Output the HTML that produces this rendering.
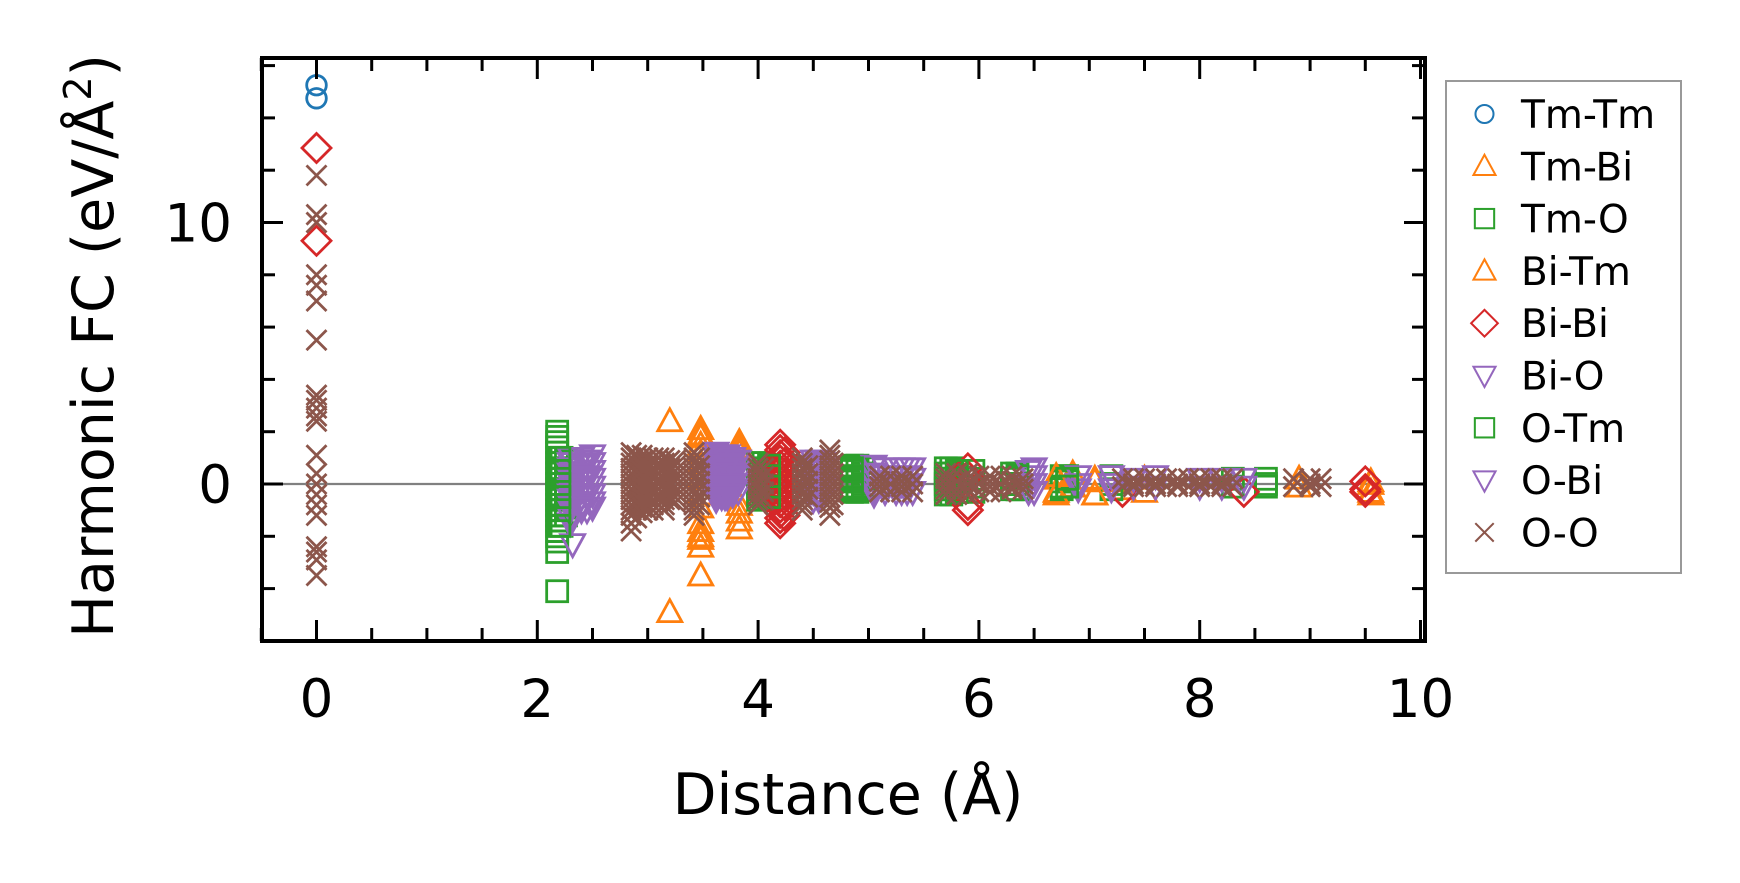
<!DOCTYPE html>
<html><head><meta charset="utf-8"><style>
html,body{margin:0;padding:0;background:#fff;}
svg{display:block;font-family:"DejaVu Sans","Liberation Sans",sans-serif;}
</style></head><body>
<svg id="chart" width="1740" height="883" viewBox="0 0 1740 883" xmlns="http://www.w3.org/2000/svg">
<rect x="0" y="0" width="1740" height="883" fill="#fff"/>
<g id="marks"></g>
<g id="axes"></g>
<text x="848" y="814" font-size="57" text-anchor="middle">Distance (Å)</text>
<text transform="translate(113,346) rotate(-90)" font-size="57" text-anchor="middle">Harmonic FC (eV/Å<tspan dy="-22" font-size="38">2</tspan><tspan dy="22">)</tspan></text>
<g id="legend"></g>
</svg>
<script>
const xTicks = [0,2,4,6,8,10];
const yTicks = [0,10];
const seriesNames = ["Tm-Tm","Tm-Bi","Tm-O","Bi-Tm","Bi-Bi","Bi-O","O-Tm","O-Bi","O-O"];
// cluster data: distance per cluster, and FC values per cluster
const tmtmX = [0];
const tmtmY = [[15.25,14.75]];
const tmbiX = [3.2,3.15,3.48,3.83,4.25,6.7,6.85,7.05,7.3,7.5,8.9,9.55];
const tmbiY = [[2.4,-4.9],[0.0],[2.1,1.8,1.5,1.2,0.8,0.3,-0.4,-0.9,-1.5,-1.8,-2.1,-2.4,-3.5],[1.6,1.2,-0.8,-1.1,-1.7],[0.1],[0.2,-0.3],[0.4,-0.1],[-0.4,0.1],[0.1,-0.2],[-0.3,0.2],[-0.1,0.2],[-0.3,0.1]];
const tmoX = [2.18,2.22,2.26,4.0,4.05,4.1,4.85,4.9,4.95,5.7,5.75,5.8,5.95,6.3,6.35,6.75,6.8,7.2,8.3,8.6];
const tmoY = [[2.0,1.8,1.6,1.4,1.2,1.0,0.8,0.6,0.4,0.2,0.0,-0.2,-0.4,-0.6,-0.8,-1.0,-1.2,-1.4,-1.6,-1.8,-2.0,-2.2,-2.6,-4.1],[1.0,0.8,0.6,0.4,0.2,0.0,-0.2,-0.4,-0.6,-0.8,-1.0,-1.2,-1.4,-1.6],[0.9,0.6,0.3,0.0,-0.3,-0.6,-0.9,-1.2],[0.8,0.6,0.4,0.2,0.0,-0.2,-0.4,-0.6],[0.8,0.6,0.4,0.2,0.0,-0.2,-0.4,-0.6],[0.7,0.5,0.3,0.1,-0.1,-0.3,-0.5],[0.7,0.5,0.3,0.1,-0.1,-0.3],[0.7,0.5,0.3,0.1,-0.1,-0.3],[0.6,0.4,0.2,0.0,-0.2],[0.6,0.4,0.2,0.0,-0.2,-0.4],[0.6,0.4,0.2,0.0,-0.2,-0.4],[0.5,0.3,0.1,-0.1,-0.3],[0.5,0.2,-0.1,-0.3],[0.4,0.2,0.0,-0.2],[0.4,0.2,0.0,-0.2],[0.3,0.1,-0.1,-0.2],[0.3,0.1,-0.1],[0.3,0.0,-0.2],[0.2,-0.1],[0.2,0.0,-0.1]];
const bitmX = [3.48,3.83,6.7,7.05,9.55];
const bitmY = [[1.9,-2.0],[1.4,-1.4],[0.3,-0.4],[0.2,-0.4],[0.0,-0.4]];
const bibiX = [0,4.2,4.24,5.9,7.3,8.4,9.5];
const bibiY = [[12.85,9.3],[1.5,1.3,1.1,0.9,0.7,0.5,0.3,0.1,-0.1,-0.3,-0.5,-0.7,-0.9,-1.1,-1.3,-1.5],[1.2,0.8,0.4,0.0,-0.4,-0.8,-1.2],[0.6,0.3,-0.8,-1.0],[-0.3],[-0.3],[0.1,-0.2,-0.3]];
const bioX = [2.3,2.32,2.4,2.5,3.62,3.67,3.72,3.77,3.82,4.5,4.55,4.6,5.05,5.15,5.25,5.35,5.4,6.5,6.9,7.2,7.6,8.0,8.4];
const bioY = [[1.0,0.8,0.6,0.4,0.2,0.0,-0.2,-0.4,-0.6,-0.8,-1.0,-1.3,-1.5],[-2.3],[1.0,0.7,0.4,0.1,-0.2,-0.5,-0.8,-1.0],[1.1,0.8,0.5,0.2,-0.1,-0.4,-0.7,-0.9],[1.2,1.0,0.8,0.6,0.4,0.2,0.0,-0.2,-0.4,-0.6],[1.1,0.9,0.7,0.5,0.3,0.1,-0.1,-0.3,-0.5],[1.1,0.9,0.7,0.5,0.3,0.1,-0.1,-0.3,-0.5],[1.0,0.8,0.6,0.4,0.2,0.0,-0.2,-0.4],[0.9,0.6,0.3,0.0,-0.3],[0.9,0.7,0.5,0.3,0.1,-0.1,-0.3,-0.6],[0.9,0.6,0.3,0.0,-0.3,-0.6],[0.8,0.5,0.2,-0.1,-0.4],[0.7,0.4,0.1,-0.2,-0.4],[0.6,0.3,0.0,-0.3],[0.6,0.3,0.0,-0.3],[0.6,0.3,0.0,-0.3],[0.6,0.2,-0.3],[0.6,0.3,0.0,-0.3],[0.3,0.0,-0.2],[0.3,0.0,-0.2],[0.3,-0.1],[0.2,-0.1],[0.2,-0.1]];
const otmX = [2.2,4.1,4.85,5.8,6.35,6.8];
const otmY = [[1.0,0.5,0.0,-0.5,-1.0,-1.6],[0.7,0.3,-0.1,-0.5],[0.6,0.2,-0.2],[0.5,0.1,-0.3],[0.3,0.0,-0.2],[0.2,-0.1]];
const obiX = [2.45,3.7,4.55,5.3,6.45,7.4,8.2];
const obiY = [[0.9,0.3,-0.4,-1.0],[1.1,0.5,-0.1,-0.5],[0.8,0.2,-0.4],[0.6,0.0,-0.3],[0.5,0.0,-0.3],[0.2,-0.1],[0.2,-0.1]];
const ooX = [0,2.85,2.9,2.95,3.0,3.05,3.1,3.15,3.2,3.25,3.42,3.47,4.0,4.05,4.4,4.45,4.65,4.68,5.1,5.2,5.3,5.4,5.7,5.8,5.9,6.0,6.1,6.2,6.3,6.4,7.3,7.4,7.5,7.6,7.7,7.8,7.9,8.0,8.1,8.2,8.3,8.85,9.0,9.1];
const ooY = [[11.8,10.3,10.0,8.0,7.6,7.0,5.5,3.4,3.2,2.9,2.6,2.4,1.1,0.4,0.0,-0.4,-0.8,-1.2,-2.4,-2.6,-2.9,-3.5],[1.2,1.0,0.8,0.6,0.4,0.2,0.0,-0.2,-0.4,-0.6,-0.8,-1.0,-1.2,-1.5,-1.8],[1.1,0.8,0.5,0.2,-0.1,-0.4,-0.7,-1.0,-1.3],[1.1,0.9,0.7,0.5,0.3,0.1,-0.1,-0.3,-0.5,-0.7,-0.9,-1.1],[1.0,0.7,0.4,0.1,-0.2,-0.5,-0.8,-1.0],[1.0,0.8,0.6,0.4,0.2,0.0,-0.2,-0.4,-0.6,-0.8,-1.0],[1.0,0.7,0.4,0.1,-0.2,-0.5,-0.8],[1.0,0.8,0.6,0.4,0.2,0.0,-0.2,-0.4,-0.6,-0.8,-1.0],[0.9,0.6,0.3,0.0,-0.3,-0.6],[0.9,0.7,0.5,0.3,0.1,-0.1,-0.3,-0.5,-0.7],[1.2,1.0,0.8,0.6,0.4,0.2,0.0,-0.2,-0.4,-0.6,-0.8,-1.0,-1.2],[1.0,0.7,0.4,0.1,-0.2,-0.5,-0.8],[0.8,0.6,0.4,0.2,0.0,-0.2,-0.4,-0.6,-0.8],[0.6,0.3,0.0,-0.3,-0.6],[1.0,0.8,0.6,0.4,0.2,0.0,-0.2,-0.4,-0.6,-0.8,-1.0],[0.7,0.4,0.1,-0.2,-0.5],[1.3,1.1,0.9,0.7,0.5,0.3,0.1,-0.1,-0.3,-0.5,-0.7,-0.9,-1.2],[0.8,0.4,0.0,-0.4,-0.8],[0.3,0.1,-0.1,-0.3],[0.3,0.0,-0.3],[0.3,0.1,-0.1,-0.3],[0.3,0.0,-0.3],[0.4,0.2,0.0,-0.2,-0.4],[0.4,0.1,-0.2,-0.4],[0.4,0.2,0.0,-0.2,-0.4],[0.3,0.0,-0.3],[0.3,0.1,-0.1,-0.3],[0.3,0.0,-0.3],[0.3,0.1,-0.1,-0.2],[0.2,0.0,-0.2],[0.2,-0.1],[0.2,0.0,-0.1],[0.2,-0.1],[0.2,0.0,-0.1],[0.2,-0.1],[0.2,0.0,-0.1],[0.2,-0.1],[0.2,0.0,-0.1],[0.2,-0.1],[0.2,0.0,-0.1],[0.2,-0.1],[0.2,-0.1],[0.2,0.0,-0.1],[0.2,-0.1]];

const NS="http://www.w3.org/2000/svg";
const L=262,R=1425,T=58,B=641;
function sx(v){return 316.5+110.4*v;}
function sy(v){return 484-26.15*v;}
function mk(tag,attrs,parent){const e=document.createElementNS(NS,tag);for(const k in attrs)e.setAttribute(k,attrs[k]);parent.appendChild(e);return e;}
const marks=document.getElementById('marks');
const axes=document.getElementById('axes');
const legend=document.getElementById('legend');
const zl=mk('line',{x1:L,x2:R,y1:sy(0),y2:sy(0),stroke:'#808080','stroke-width':2.2},marks);



function marker(shape,cx,cy,color,parent,sw){
  let e;
  const a={fill:'none',stroke:color,'stroke-width':sw||2.8};
  if(shape==='o'){a.cx=cx;a.cy=cy;a.r=9.8;e=mk('circle',a,parent);}
  else if(shape==='^'){a.points=`${cx},${cy-12.5} ${cx+12},${cy+9.5} ${cx-12},${cy+9.5}`;e=mk('polygon',a,parent);}
  else if(shape==='v'){a.points=`${cx},${cy+12.5} ${cx+12},${cy-9.5} ${cx-12},${cy-9.5}`;e=mk('polygon',a,parent);}
  else if(shape==='s'){a.x=cx-10.5;a.y=cy-10.5;a.width=21;a.height=21;e=mk('rect',a,parent);}
  else if(shape==='D'){a.points=`${cx},${cy-14.5} ${cx+14.5},${cy} ${cx},${cy+14.5} ${cx-14.5},${cy}`;e=mk('polygon',a,parent);}
  else {a.d=`M${cx-10},${cy-10}L${cx+10},${cy+10}M${cx-10},${cy+10}L${cx+10},${cy-10}`;e=mk('path',a,parent);}
  return e;
}
const series=[
 {name:'tm-tm',xs:tmtmX,ys:tmtmY,shape:'o',color:'#1f77b4'},
 {name:'tm-bi',xs:tmbiX,ys:tmbiY,shape:'^',color:'#ff7f0e'},
 {name:'tm-o',xs:tmoX,ys:tmoY,shape:'s',color:'#2ca02c'},
 {name:'bi-tm',xs:bitmX,ys:bitmY,shape:'^',color:'#ff7f0e'},
 {name:'bi-bi',xs:bibiX,ys:bibiY,shape:'D',color:'#d62728'},
 {name:'bi-o',xs:bioX,ys:bioY,shape:'v',color:'#9467bd'},
 {name:'o-tm',xs:otmX,ys:otmY,shape:'s',color:'#2ca02c'},
 {name:'o-bi',xs:obiX,ys:obiY,shape:'v',color:'#9467bd'},
 {name:'o-o',xs:ooX,ys:ooY,shape:'x',color:'#8c564b'}
];
series.forEach((s,si)=>{
  const g=mk('g',{},marks);
  
  
  s.xs.forEach((xv,i)=>{
    s.ys[i].forEach(yv=>{
      const m=marker(s.shape,sx(xv),sy(yv),s.color,g);
      
      
    });
  });
  const ly=114+52.3*si;
  const lg=mk('g',{},legend);
  
  
  const lm=marker(s.shape,1484.5,ly,s.color,lg,2.2);
  lm.setAttribute('transform',`translate(1484.5,${ly}) scale(0.92) translate(-1484.5,${-ly})`);
  
  
  const lt=mk('text',{x:1521,y:ly+14,'font-size':39},lg);
  lt.textContent=seriesNames[si];
  
  
});
const lb=mk('rect',{x:1446,y:81,width:235,height:492,fill:'none',stroke:'#999','stroke-width':2},legend);



const fr=mk('rect',{x:L,y:T,width:R-L,height:B-T,fill:'none',stroke:'#000','stroke-width':4},axes);


for(let v=-0.5;v<=10.01;v+=0.5){
  const X=sx(v); if(X<L-1||X>R+1) continue;
  const major=Math.abs(v/2-Math.round(v/2))<1e-6;
  const len=major?21:13;
  const t1=mk('line',{x1:X,x2:X,y1:B,y2:B-len,stroke:'#000','stroke-width':3},axes);
  
  
  const t2=mk('line',{x1:X,x2:X,y1:T,y2:T+len,stroke:'#000','stroke-width':3},axes);
  
  
}
xTicks.forEach(v=>{
  const t=mk('text',{x:sx(v),y:717,'font-size':53,'text-anchor':'middle'},axes);
  t.textContent=v;
  
  
});
for(let v=-6;v<=16;v+=2){
  const Y=sy(v); if(Y<T+2||Y>B-2) continue;
  const major=(v%10===0);
  const len=major?21:13;
  const t1=mk('line',{x1:L,x2:L+len,y1:Y,y2:Y,stroke:'#000','stroke-width':3},axes);
  
  
  const t2=mk('line',{x1:R,x2:R-len,y1:Y,y2:Y,stroke:'#000','stroke-width':3},axes);
  
  
}
yTicks.forEach(v=>{
  const t=mk('text',{x:232,y:sy(v)+19,'font-size':53,'text-anchor':'end'},axes);
  t.textContent=v;
  
  
});
</script>
</body></html>
